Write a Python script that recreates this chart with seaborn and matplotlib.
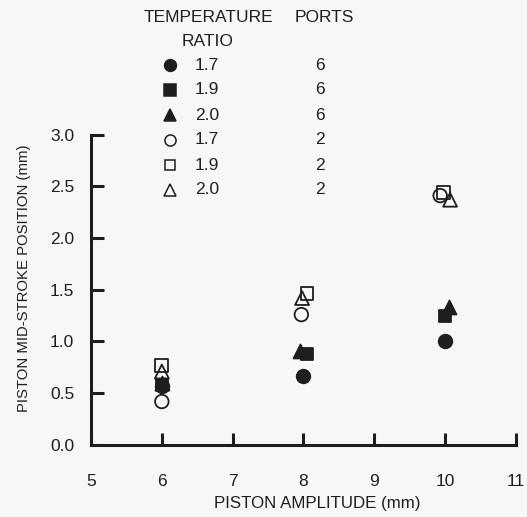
import matplotlib
matplotlib.use("Agg")
import matplotlib.pyplot as plt
import seaborn as sns
import pandas as pd

# Piston amplitude (mm) per series, as plotted (points are slightly offset in x)
amp_r17_p6 = [6.0, 8.0, 10.0]
amp_r19_p6 = [6.0, 8.05, 10.0]
amp_r20_p6 = [6.0, 7.95, 10.05]
amp_r17_p2 = [6.0, 7.97, 9.93]
amp_r19_p2 = [6.0, 8.05, 9.98]
amp_r20_p2 = [6.0, 7.98, 10.07]

# Piston mid-stroke position (mm)
pos_r17_p6 = [0.57, 0.67, 1.00]
pos_r19_p6 = [0.58, 0.88, 1.25]
pos_r20_p6 = [0.60, 0.91, 1.33]
pos_r17_p2 = [0.42, 1.26, 2.41]
pos_r19_p2 = [0.77, 1.46, 2.44]
pos_r20_p2 = [0.71, 1.42, 2.37]

temp_ratio = ["1.7", "1.9", "2.0", "1.7", "1.9", "2.0"]
ports = ["6", "6", "6", "2", "2", "2"]

x_ticks = [5, 6, 7, 8, 9, 10, 11]
y_ticks = [0.0, 0.5, 1.0, 1.5, 2.0, 2.5, 3.0]

series = [
    (amp_r17_p6, pos_r17_p6, "o", True),
    (amp_r19_p6, pos_r19_p6, "s", True),
    (amp_r20_p6, pos_r20_p6, "^", True),
    (amp_r17_p2, pos_r17_p2, "o", False),
    (amp_r19_p2, pos_r19_p2, "s", False),
    (amp_r20_p2, pos_r20_p2, "^", False),
]

sns.set_theme(style="white")
plt.rcParams["font.family"] = ["Liberation Sans", "DejaVu Sans"]

ink = "#1e1e1e"
bg = "#f7f7f7"
fs = 12.5

fig = plt.figure(figsize=(5.27, 5.17), dpi=100, facecolor=bg)
ax = fig.add_axes([0.1727, 0.1393, 0.8063, 0.6005])
ax.set_facecolor(bg)

sizes = {"o": 95, "s": 85, "^": 100}
for xs, ys, mk, filled in series:
    df = pd.DataFrame({"amp": xs, "pos": ys})
    sns.scatterplot(
        data=df, x="amp", y="pos", ax=ax, marker=mk, s=sizes[mk],
        facecolor=ink if filled else "none", edgecolor=ink,
        linewidth=1.3, legend=False, zorder=3 if filled else 4,
    )

ax.set_xlim(5, 11)
ax.set_ylim(0, 3)
ax.set_xticks(x_ticks)
ax.set_yticks(y_ticks)
ax.set_xticklabels([str(t) for t in x_ticks])
ax.set_yticklabels([f"{t:.1f}" for t in y_ticks])
ax.tick_params(axis="both", direction="in", length=9, width=2.2, color=ink,
               labelsize=fs, labelcolor=ink, bottom=True, left=True)
ax.tick_params(axis="x", pad=21)
ax.tick_params(axis="y", pad=12)
for side in ["top", "right"]:
    ax.spines[side].set_visible(False)
for side in ["left", "bottom"]:
    ax.spines[side].set_color(ink)
    ax.spines[side].set_linewidth(2.2)
ax.set_xlabel("PISTON AMPLITUDE (mm)", fontsize=12.2, color=ink)
ax.set_ylabel("PISTON MID-STROKE POSITION (mm)", fontsize=10.7, color=ink)
ax.xaxis.set_label_coords(0.532, -0.165)
ax.yaxis.set_label_coords(-0.142, 0.537)

# Key block above the plot
W, H = 527.0, 517.0
def fx(px):
    return px / W
def fy(py):
    return 1 - py / H

fig.text(fx(208), fy(18), "TEMPERATURE", ha="center", va="center",
         fontsize=fs, color=ink)
fig.text(fx(208), fy(42), "RATIO", ha="center", va="center",
         fontsize=fs, color=ink)
fig.text(fx(324), fy(18), "PORTS", ha="center", va="center",
         fontsize=fs, color=ink)

row_y = [65, 90, 115, 140, 165, 190]
key_sizes = {"o": 8.5, "s": 8, "^": 8.5}
for (xs, ys, mk, filled), ratio, port, ry in zip(series, temp_ratio, ports, row_y):
    ax.plot([fx(170)], [fy(ry)], marker=mk, linestyle="none",
            markersize=key_sizes[mk] if filled else key_sizes[mk] - 0.5,
            markerfacecolor=ink if filled else "none",
            markeredgecolor=ink, markeredgewidth=1.1,
            transform=fig.transFigure, clip_on=False)
    fig.text(fx(195), fy(ry), ratio, ha="left", va="center",
             fontsize=fs, color=ink)
    fig.text(fx(320), fy(ry), port, ha="center", va="center",
             fontsize=fs, color=ink)

fig.savefig("out.png", dpi=100, facecolor=bg)
